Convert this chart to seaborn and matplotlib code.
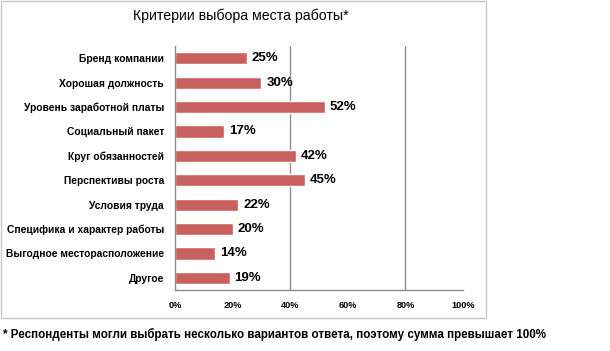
import matplotlib
matplotlib.use("Agg")
import matplotlib.pyplot as plt
import seaborn as sns
import pandas as pd
from matplotlib.patches import Rectangle

categories = ["Бренд компании", "Хорошая должность", "Уровень заработной платы",
              "Социальный пакет", "Круг обязанностей", "Перспективы роста",
              "Условия труда", "Специфика и характер работы",
              "Выгодное месторасположение", "Другое"]
values = [25, 30, 52, 17, 42, 45, 22, 20, 14, 19]
x_ticks = [0, 20, 40, 60, 80, 100]
x_tick_labels = ["0%", "20%", "40%", "60%", "80%", "100%"]
title = "Критерии выбора места работы*"
footnote = "* Респонденты могли выбрать несколько вариантов ответа, поэтому сумма превышает 100%"

sns.set_theme(style="white")
plt.rcParams['font.family'] = ['Liberation Sans', 'DejaVu Sans']

df = pd.DataFrame({"cat": categories, "val": values})

fig = plt.figure(figsize=(6.10, 3.51), dpi=100)
ax = fig.add_axes([175/610, 1-290/351, 288/610, 244/351])

sns.barplot(data=df, y="cat", x="val", orient="h", color="#C9625F",
            saturation=1, width=0.5, ax=ax)

ax.set_xlim(0, 100)
ax.set_ylim(len(categories)-0.5, -0.5)
for g in [40, 80]:
    ax.axvline(g, color="#8C8C8C", lw=1.0, zorder=0)

for i, v in enumerate(values):
    ax.text(v + 1.7, i, f"{v}%", va="center", ha="left", fontsize=9.5,
            fontweight="bold", color="#000000")

ax.set_xticks(x_ticks)
ax.set_xticklabels(x_tick_labels, fontsize=6.6, fontweight="bold", color="#000000")
ax.set_yticks(range(len(categories)))
ax.set_yticklabels(categories, fontsize=7.4, fontweight="bold", color="#000000")
ax.set_xlabel("")
ax.set_ylabel("")
for s in ["top", "right"]:
    ax.spines[s].set_visible(False)
for s in ["left", "bottom"]:
    ax.spines[s].set_color("#8C8C8C")
    ax.spines[s].set_linewidth(1.0)
ax.tick_params(axis="y", length=0, pad=8)
ax.tick_params(axis="x", length=3, color="#8C8C8C", direction="out", pad=5)
# category boundary ticks on y axis
ax.set_yticks([i - 0.5 for i in range(len(categories)+1)], minor=True)
ax.tick_params(axis="y", which="minor", length=3, color="#8C8C8C", direction="out")

# chart frame
fig.patches.append(Rectangle((0.5/610, 1-318/351), 485/610, 317/351,
                             transform=fig.transFigure, fill=False,
                             edgecolor="#C8C8C8", lw=1.0))

fig.text(241/610, 1-16/351, title, ha="center", va="center", fontsize=10.2,
         color="#000000")
fig.text(3/610, 1-334/351, footnote, ha="left", va="center", fontsize=8.4,
         fontweight="bold", color="#000000")

fig.savefig("out.png", dpi=100)
